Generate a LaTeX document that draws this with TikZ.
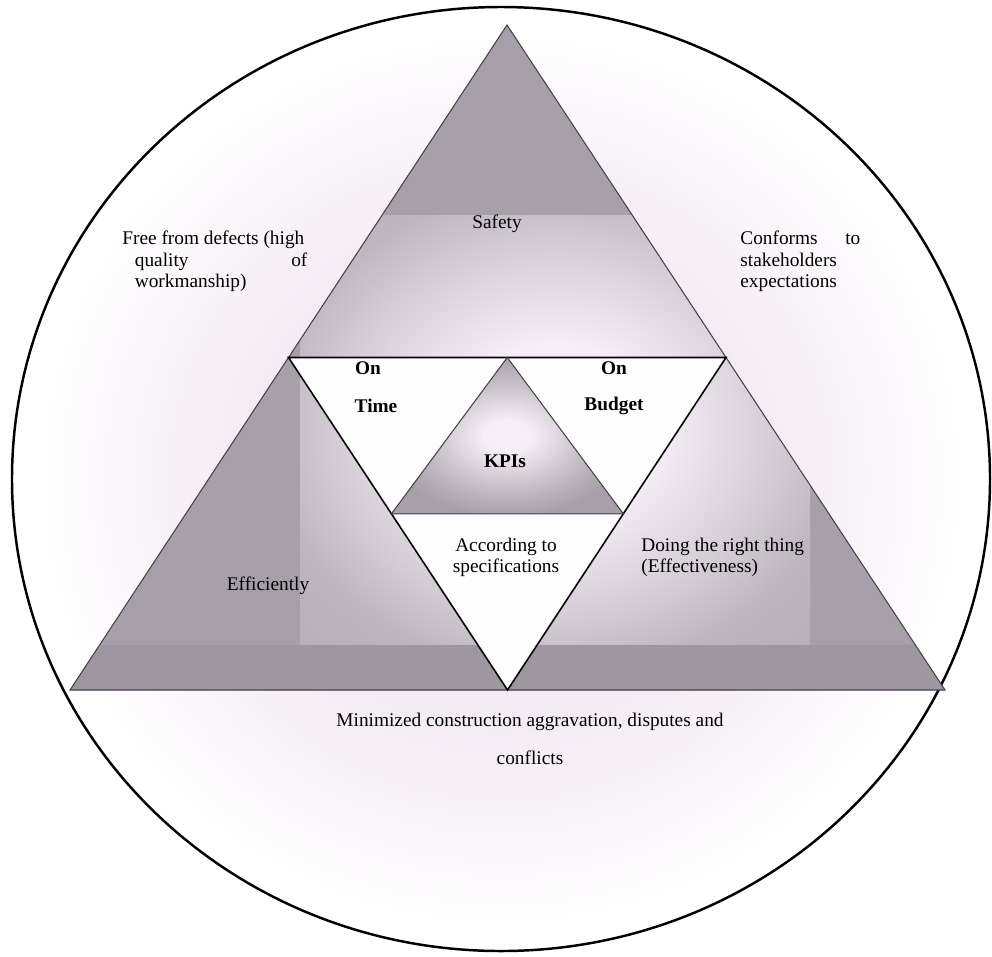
\documentclass[tikz,border=0pt]{standalone}
\usepackage{fontspec}
\setmainfont{Liberation Serif}
\usetikzlibrary{calc}
\definecolor{trigray}{RGB}{167,159,169}
\definecolor{bandgray}{RGB}{158,150,160}
\definecolor{glowlav}{RGB}{246,238,246}
\definecolor{paler}{RGB}{240,229,240}
\definecolor{edgegray}{RGB}{70,66,72}
\pgfdeclareradialshading{midglow}{\pgfpoint{0bp}{0bp}}{color(0bp)=(glowlav); color(10bp)=(glowlav); color(21bp)=(trigray!40!glowlav); color(28bp)=(trigray!70!glowlav); color(50bp)=(trigray)}
\pgfdeclareradialshading{kpiglow}{\pgfpoint{0bp}{0bp}}{color(0bp)=(glowlav); color(5bp)=(glowlav); color(20bp)=(trigray!75!glowlav); color(26bp)=(trigray); color(50bp)=(trigray)}
\pgfdeclareradialshading{backglow}{\pgfpoint{0bp}{0bp}}{color(0bp)=(paler); color(14bp)=(paler!70!white); color(24bp)=(white); color(50bp)=(white)}
\tikzset{
  lbl/.style={font=\fontsize{11}{12}\selectfont, inner sep=0pt},
  lblb/.style={inner sep=0pt, font=\fontsize{11}{12}\selectfont\bfseries},
  trisides/.style={draw=edgegray, line width=0.6pt},
}
\begin{document}
\begin{tikzpicture}[x=0.2mm, y=-0.2mm]
\useasboundingbox (0,0) rectangle (992,956);
% outer ring with faint glow
\shade[shading=backglow] (501,479) ellipse [x radius=489, y radius=472];
\draw[line width=1.4pt] (501,479) ellipse [x radius=489, y radius=472];
% big triangle and its parts
\coordinate (apex) at (507,25);
\coordinate (bl) at (70,690);
\coordinate (br) at (945,690);
\coordinate (ml) at ($(apex)!0.5!(bl)$);
\coordinate (mr) at ($(apex)!0.5!(br)$);
\coordinate (mb) at ($(bl)!0.5!(br)$);
\begin{scope}
  \clip (apex) -- (bl) -- (br) -- cycle;
  \fill[trigray] (0,0) rectangle (992,956);
  \shade[shading=midglow] (300,215) rectangle (810,645);
  \fill[bandgray] (0,645) rectangle (992,700);
\end{scope}
\draw[trisides] (apex) -- (bl) -- (br) -- cycle;
% inner inverted triangle
\fill[white!92!paler] (ml) -- (mr) -- (mb) -- cycle;
\draw[black, line width=0.9pt] (ml) -- (mr) -- (mb) -- cycle;
% KPI triangle
\coordinate (kt) at ($(ml)!0.5!(mr)$);
\coordinate (kl) at ($(ml)!0.47!(mb)$);
\coordinate (kr) at ($(mr)!0.47!(mb)$);
\shade[shading=kpiglow] (kt) -- (kl) -- (kr) -- cycle;
\draw[trisides] (kt) -- (kl) -- (kr) -- cycle;
% labels
\node[lbl] (safety) at (497,224) {Safety};
\node[lbl, anchor=north west] (defects) at (122,231)
  {\parbox{37mm}{Free from defects (high\\\hspace*{2.5mm}quality\hfill of\\\hspace*{2.5mm}workmanship)}};
\node[lbl, anchor=north west] (conforms) at (740,231)
  {\parbox{24mm}{Conforms\hfill to\\stakeholders\\expectations}};
\node[lblb] (on1) at (368,368) {On};
\node[lblb] (time) at (376,406) {Time};
\node[lblb] (on2) at (614,368) {On};
\node[lblb] (budget) at (614,406) {Budget};
\node[lblb] (kpis) at (505,461) {KPIs};
\node[lbl, align=center] (spec) at (506,557) {According to\\specifications};
\node[lbl, anchor=west, align=left] (right) at (641,557)
  {Doing the right thing\\(Effectiveness)};
\node[lbl] (eff) at (268,586) {Efficiently};
\node[lbl] (minim) at (530,722) {Minimized construction aggravation, disputes and};
\node[lbl] (confl) at (530,758) {conflicts};
\end{tikzpicture}
\end{document}
